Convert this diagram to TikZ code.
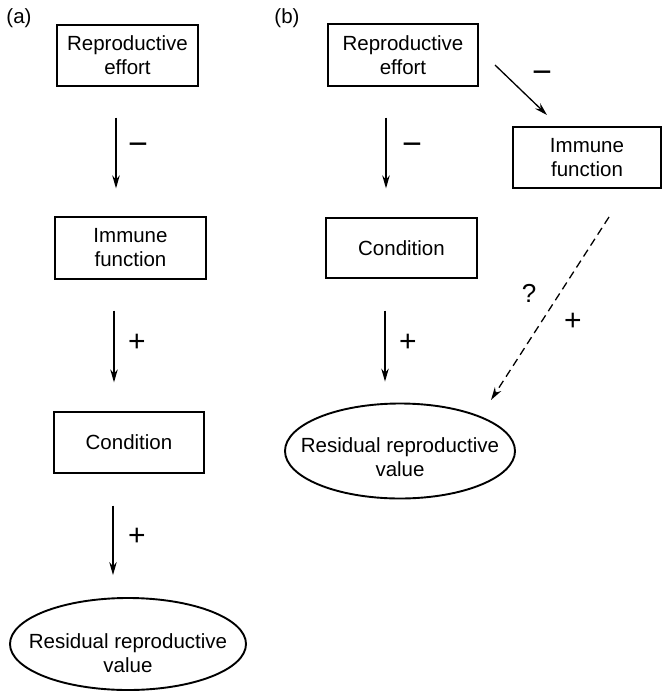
\documentclass[tikz,border=0pt]{standalone}
\usepackage{fontspec}
\setmainfont{Liberation Sans}
\usetikzlibrary{arrows.meta, shapes.geometric}

\tikzset{
  box/.style={draw, line width=1.3pt, align=center, inner sep=0pt, minimum width=150pt, minimum height=61pt},
  oval/.style={draw, ellipse, line width=1.9pt, inner sep=0pt},
  ovaltext/.style={align=center, inner sep=0pt},
  arr/.style={line width=1.3pt, -{Stealth[length=13pt,width=7.5pt]}},
  dasharr/.style={arr, dash pattern=on 8pt off 5pt},
  sign/.style={inner sep=0pt, font=\fontsize{30}{30}\selectfont}
}

\begin{document}
\begin{tikzpicture}[x=1pt, y=-1pt, font=\fontsize{20.5}{24}\selectfont]
    \useasboundingbox (0,0) rectangle (662,693);

    % panel (a)
    \node[inner sep=0pt] (labA) at (19,18) {(a)};
    \node[box, minimum width=141pt] (reA) at (127.5,55.5) {Reproductive\\effort};
    \node[box, minimum width=151pt, minimum height=62pt] (imA) at (130.5,248) {Immune\\function};
    \node[box] (coA) at (129,442.5) {Condition};
    \node[oval, minimum width=236pt, minimum height=92pt] (rrvA) at (128,644) {};
    \node[ovaltext] (rrvAt) at ([yshift=-9pt]rrvA.center) {Residual reproductive\\value};

    \draw[arr, shorten <=31pt, shorten >=28pt] ([xshift=-11.5pt]reA.south) -- ([xshift=-11.5pt]reA.south |- imA.north);
    \draw[arr, shorten <=31pt, shorten >=29pt] ([xshift=-16.5pt]imA.south) -- ([xshift=-16.5pt]imA.south |- coA.north);
    \draw[arr, shorten <=32pt, shorten >=22pt] ([xshift=-16pt]coA.south) -- ([xshift=-16pt]coA.south |- rrvA.north);
    \node[sign, font=\fontsize{34}{34}\selectfont] (mA1) at (138,149) {−};
    \node[sign] (pA1) at (137,343) {+};
    \node[sign] (pA2) at (137,537) {+};

    % panel (b)
    \node[inner sep=0pt] (labB) at (287,18) {(b)};
    \node[box, minimum height=62pt] (reB) at (403,55) {Reproductive\\effort};
    \node[box, minimum width=151pt, minimum height=60pt] (coB) at (401.5,248) {Condition};
    \node[box, minimum width=148pt] (imB) at (587,157.5) {Immune\\function};
    \node[oval, minimum width=230pt, minimum height=95pt] (rrvB) at (400,451) {};
    \node[ovaltext] (rrvBt) at ([yshift=-6pt]rrvB.center) {Residual reproductive\\value};

    \draw[arr, shorten <=31pt, shorten >=29pt] ([xshift=-17pt]reB.south) -- ([xshift=-17pt]reB.south |- coB.north);
    \draw[arr, shorten <=32pt, shorten >=21pt] ([xshift=-16.5pt]coB.south) -- ([xshift=-16.5pt]coB.south |- rrvB.north);
    \coordinate (dgS) at (495,65);
    \coordinate (dgE) at (547,115);
    \draw[arr] (dgS) -- (dgE);
    \coordinate (dsS) at (609,217);
    \coordinate (dsE) at (491,400);
    \draw[dasharr] (dsS) -- (dsE);
    \node[sign, font=\fontsize{34}{34}\selectfont] (mB1) at (412,149) {−};
    \node[sign, font=\fontsize{34}{34}\selectfont] (mB2) at (542,77) {−};
    \node[sign] (pB1) at (408,343) {+};
    \node[sign, font=\fontsize{26}{26}\selectfont] (qB) at (529,293) {?};
    \node[sign] (pB2) at (573,322) {+};
\end{tikzpicture}
\end{document}
